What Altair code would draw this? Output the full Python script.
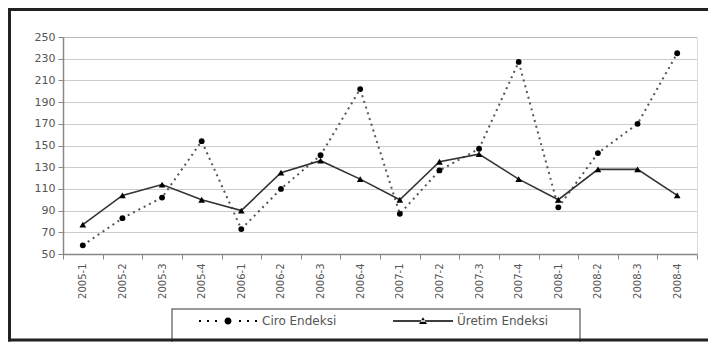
import altair as alt
import pandas as pd

quarters = ["2005-1", "2005-2", "2005-3", "2005-4",
            "2006-1", "2006-2", "2006-3", "2006-4",
            "2007-1", "2007-2", "2007-3", "2007-4",
            "2008-1", "2008-2", "2008-3", "2008-4"]
ciro = [58, 83, 102, 154, 73, 110, 141, 202, 87, 127, 147, 227, 93, 143, 170, 235]
uretim = [77, 104, 114, 100, 90, 125, 136, 119, 100, 135, 142, 119, 100, 128, 128, 104]
series_names = ["Ciro Endeksi", "Üretim Endeksi"]
y_ticks = list(range(50, 251, 20))

df = pd.DataFrame({
    "quarter": quarters * 2,
    "value": ciro + uretim,
    "series": [series_names[0]] * len(quarters) + [series_names[1]] * len(quarters),
})

FONT = "DejaVu Sans"
W, H = 634, 217

# legend symbols: line + marker drawn as custom symbol paths (unit coords)
def sq(x, h=0.2):
    return f"M {x-h} {-h} H {x+h} V {h} H {x-h} Z "

circle = "M -0.7 0 A 0.7 0.7 0 1 0 0.7 0 A 0.7 0.7 0 1 0 -0.7 0 Z "
path_ciro = "".join(sq(x) for x in [-5.6, -4.0, -2.4, 2.4, 4.0, 5.6]) + circle
path_uretim = "M -6 -0.15 H 6 V 0.15 H -6 Z M -0.8 0.6 L 0.8 0.6 L 0 -0.75 Z"

x_enc = alt.X("quarter:N", sort=quarters, bandPosition=0.5,
              scale=alt.Scale(type="band", paddingInner=0, paddingOuter=0),
              axis=alt.Axis(title=None, labelAngle=270, tickBand="extent",
                            labelFont=FONT, labelFontSize=10, labelColor="#555",
                            tickColor="#888", tickSize=5, domainColor="#888",
                            domainWidth=1.5, labelPadding=4, grid=False))
y_enc = alt.Y("value:Q",
              scale=alt.Scale(domain=[50, 250], nice=False, zero=False),
              axis=alt.Axis(title=None, values=y_ticks, labelFont=FONT,
                            labelFontSize=11, labelColor="#555", tickColor="#888",
                            tickSize=5, domainColor="#888", domainWidth=1.5,
                            labelPadding=3, grid=True, gridColor="#999",
                            gridDash=[1, 1], gridWidth=1))

base = alt.Chart(df).encode(x=x_enc, y=y_enc)

line_ciro = base.transform_filter(alt.datum.series == series_names[0]).mark_line(
    color="#555", strokeWidth=2, strokeDash=[2, 4])
line_ur = base.transform_filter(alt.datum.series == series_names[1]).mark_line(
    color="#333", strokeWidth=1.6)
pts_ciro = base.transform_filter(alt.datum.series == series_names[0]).mark_point(
    shape="circle", filled=True, color="black", size=34, opacity=1)
pts_ur = base.transform_filter(alt.datum.series == series_names[1]).mark_point(
    shape="triangle-up", filled=True, color="black", size=45, opacity=1)

legend_layer = alt.Chart(pd.DataFrame({"series": series_names})).mark_point(
    filled=True, color="black", opacity=1, clip=True
).encode(
    x=alt.value(-5000), y=alt.value(-5000),
    shape=alt.Shape("series:N",
                    scale=alt.Scale(domain=series_names, range=[path_ciro, path_uretim]),
                    legend=alt.Legend(orient="none", legendX=129, legendY=278,
                                      direction="horizontal", title=None,
                                      symbolSize=100, symbolOffset=30,
                                      labelOffset=28, columnPadding=50,
                                      labelFont=FONT, labelFontSize=12,
                                      labelColor="#555", symbolFillColor="black",
                                      symbolStrokeWidth=0, padding=0))
)

one = pd.DataFrame({"k": [0]})
frame_top = alt.Chart(one).mark_rule(color="#222", strokeWidth=3).encode(
    x=alt.value(-55), x2=alt.value(660), y=alt.value(-27.5))
frame_bottom = alt.Chart(one).mark_rule(color="#222", strokeWidth=3).encode(
    x=alt.value(-55), x2=alt.value(660), y=alt.value(303))
frame_left = alt.Chart(one).mark_rule(color="#222", strokeWidth=3).encode(
    x=alt.value(-53.5), y=alt.value(-29), y2=alt.value(304.5))
box = alt.Chart(one).mark_rect(filled=False, stroke="#777", strokeWidth=1.5).encode(
    x=alt.value(109), x2=alt.value(517), y=alt.value(272), y2=alt.value(330))

chart = alt.layer(line_ciro, line_ur, pts_ciro, pts_ur, legend_layer, box,
                  frame_top, frame_bottom, frame_left).properties(
    width=W, height=H,
    autosize=alt.AutoSizeParams(type="none"),
    padding={"left": 55, "top": 29, "right": 11, "bottom": 88},
).configure_view(stroke=None).configure(background="white")

chart.save("out.html", embed_options={"renderer": "svg", "actions": False})
